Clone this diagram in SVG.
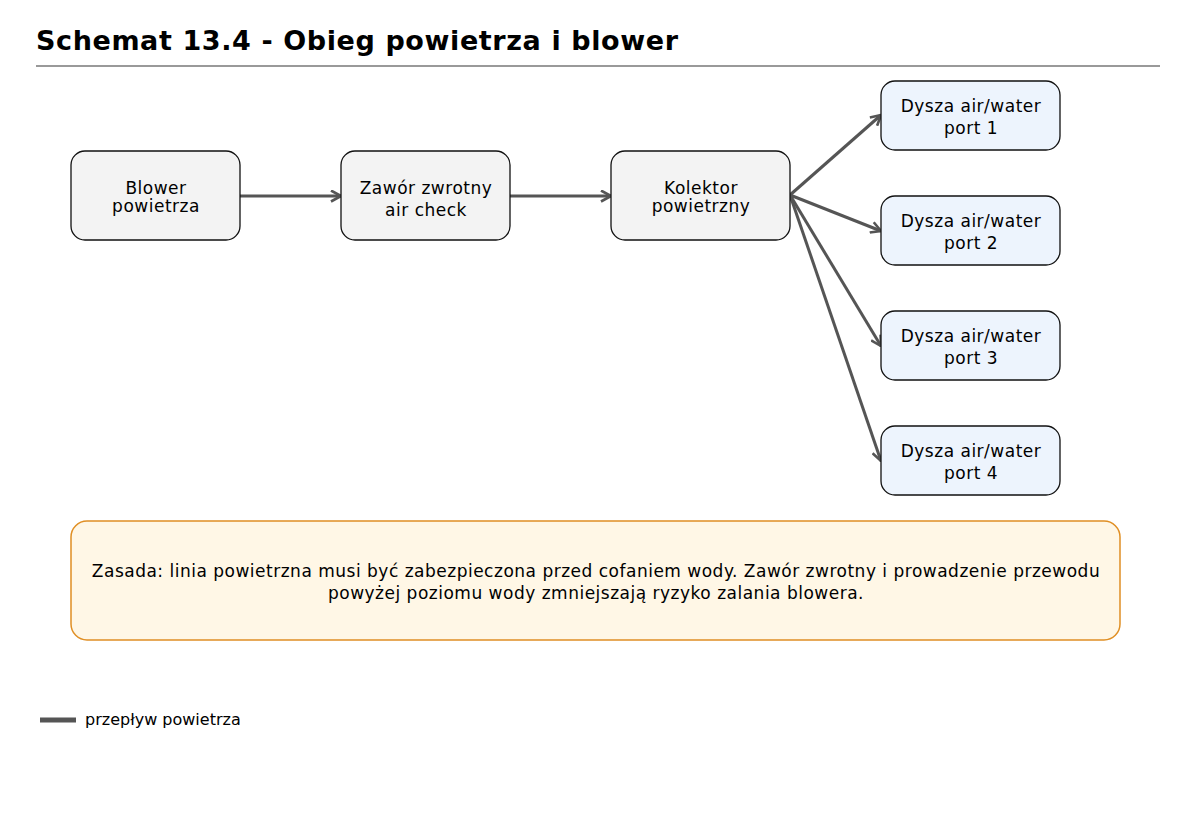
<svg xmlns="http://www.w3.org/2000/svg" width="1200" height="820" viewBox="0 0 1200 820">
<style>
text{font-family:"DejaVu Sans","Noto Sans",sans-serif;fill:#000}
.t{font-size:17px;text-anchor:middle;letter-spacing:0.5px}
.n{fill:#f3f3f3;stroke:#111;stroke-width:1.3}
.p{fill:#edf4fd;stroke:#111;stroke-width:1.3}
.c{stroke:#555;stroke-width:3;fill:none}
</style>
<defs>
<marker id="ah" viewBox="0 0 13 13" refX="12" refY="6.5" markerWidth="13" markerHeight="13" markerUnits="userSpaceOnUse" orient="auto">
<path d="M2,1 L12,6.5 L2,12" fill="none" stroke="#555" stroke-width="2.6"/>
</marker>
</defs>
<rect width="1200" height="820" fill="#fff"/>
<text x="36" y="50" font-size="27" font-weight="bold" letter-spacing="0.6">Schemat 13.4 - Obieg powietrza i blower</text>
<line x1="36" y1="66" x2="1160" y2="66" stroke="#777" stroke-width="1.5"/>
<g id="connectors">
<line class="c" x1="240" y1="196" x2="341" y2="196" marker-end="url(#ah)"/>
<line class="c" x1="510" y1="196" x2="611" y2="196" marker-end="url(#ah)"/>
<line class="c" x1="790" y1="195" x2="881" y2="115" marker-end="url(#ah)"/>
<line class="c" x1="790" y1="195" x2="881" y2="231" marker-end="url(#ah)"/>
<line class="c" x1="790" y1="195" x2="881" y2="346" marker-end="url(#ah)"/>
<line class="c" x1="790" y1="195" x2="881" y2="461" marker-end="url(#ah)"/>
</g>
<g id="blower"><rect class="n" x="71" y="151" width="169" height="89" rx="14"/><text class="t" x="156" y="194">Blower</text><text class="t" x="156" y="212">powietrza</text></g>
<g id="zawor"><rect class="n" x="341" y="151" width="169" height="89" rx="14"/><text class="t" x="426" y="194">Zawór zwrotny</text><text class="t" x="426" y="216">air check</text></g>
<g id="kolektor"><rect class="n" x="611" y="151" width="179" height="89" rx="14"/><text class="t" x="701" y="194">Kolektor</text><text class="t" x="701" y="212">powietrzny</text></g>
<g id="port1"><rect class="p" x="881" y="81" width="179" height="69" rx="14"/><text class="t" x="971" y="112">Dysza air/water</text><text class="t" x="971" y="134">port 1</text></g>
<g id="port2"><rect class="p" x="881" y="196" width="179" height="69" rx="14"/><text class="t" x="971" y="227">Dysza air/water</text><text class="t" x="971" y="249">port 2</text></g>
<g id="port3"><rect class="p" x="881" y="311" width="179" height="69" rx="14"/><text class="t" x="971" y="342">Dysza air/water</text><text class="t" x="971" y="364">port 3</text></g>
<g id="port4"><rect class="p" x="881" y="426" width="179" height="69" rx="14"/><text class="t" x="971" y="457">Dysza air/water</text><text class="t" x="971" y="479">port 4</text></g>
<g id="note"><rect x="71" y="521" width="1049" height="119" rx="16" fill="#fff7e6" stroke="#e08f24" stroke-width="1.5"/><text class="t" x="596" y="577">Zasada: linia powietrzna musi być zabezpieczona przed cofaniem wody. Zawór zwrotny i prowadzenie przewodu</text><text class="t" x="596" y="599">powyżej poziomu wody zmniejszają ryzyko zalania blowera.</text></g>
<g id="legend"><line x1="40" y1="720" x2="76" y2="720" stroke="#555" stroke-width="5"/><text x="85" y="725" font-size="16">przepływ powietrza</text></g>
</svg>
